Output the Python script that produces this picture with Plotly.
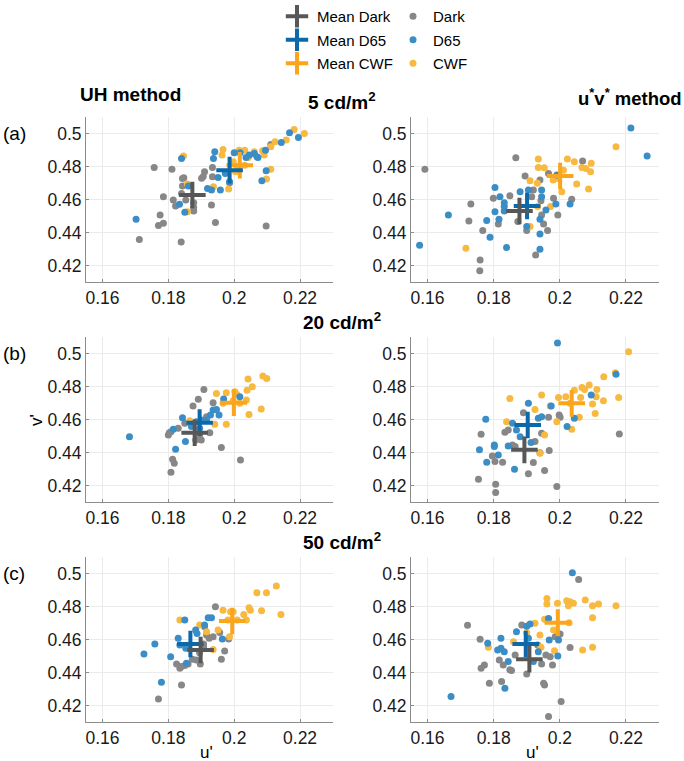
import plotly.graph_objects as go

# ---------------- data (u', v') ----------------
# UH method, 5 cd/m2
uh5_dark_u = [0.1757,0.1811,0.1843,0.1847,0.1843,0.1785,0.1815,0.1822,0.1840,0.1877,0.1877,0.1877,0.1853,0.1901,0.1906,0.1910,0.1934,0.1934,0.1931,0.1943,0.1775,0.1770,0.1785,0.1712,0.1839,0.2097,0.1986,0.2111]
uh5_dark_v = [0.4794,0.4784,0.4728,0.4732,0.4682,0.4617,0.4597,0.4561,0.4637,0.4581,0.4551,0.4530,0.4597,0.4729,0.4740,0.4768,0.4794,0.4738,0.4567,0.4460,0.4506,0.4442,0.4456,0.4357,0.4343,0.4440,0.4702,0.4934]
uh5_d65_u = [0.1702,0.1840,0.1861,0.1834,0.1850,0.1919,0.1931,0.1941,0.1937,0.1951,0.1958,0.1973,0.2000,0.2018,0.2036,0.2046,0.2061,0.2069,0.2072,0.2095,0.2097,0.2084,0.2143,0.2168,0.2195,0.1986]
uh5_d65_v = [0.4480,0.4849,0.4682,0.4571,0.4522,0.4667,0.4657,0.4889,0.4849,0.4734,0.4657,0.4758,0.4883,0.4883,0.4855,0.4869,0.4879,0.4859,0.4855,0.4899,0.4774,0.4714,0.4946,0.5004,0.4976,0.4708]
uh5_cwf_u = [0.1846,0.1858,0.1858,0.1937,0.1966,0.1963,0.1983,0.1997,0.2008,0.2004,0.2015,0.2032,0.2043,0.2061,0.2086,0.2091,0.2111,0.2124,0.2158,0.2182,0.2213,0.2111,0.2098,0.2032]
uh5_cwf_v = [0.4863,0.4694,0.4526,0.4677,0.4903,0.4869,0.4663,0.4829,0.4798,0.4768,0.4899,0.4899,0.4855,0.4889,0.4895,0.4869,0.4919,0.4950,0.4960,0.5024,0.5000,0.4784,0.4724,0.4808]
uh5_mean_u = [0.1873, 0.1986, 0.2017]   # Dark, D65, CWF
uh5_mean_v = [0.4627, 0.4778, 0.4808]

# u*v* method, 5 cd/m2
uv5_dark_u = [0.1592,0.1731,0.1725,0.1759,0.1758,0.1767,0.1799,0.1814,0.1849,0.1867,0.1873,0.1895,0.1900,0.1915,0.1920,0.1940,0.1943,0.1945,0.1951,0.1966,0.1963,0.1927,0.1981,0.1994,0.2036,0.2069]
uv5_dark_v = [0.4784,0.4573,0.4470,0.4234,0.4168,0.4412,0.4607,0.4452,0.4623,0.4853,0.4466,0.4742,0.4412,0.4617,0.4657,0.4718,0.4593,0.4506,0.4452,0.4758,0.4412,0.4264,0.4607,0.4506,0.4601,0.4833]
uv5_d65_u = [0.1576,0.1663,0.1804,0.1819,0.1832,0.1832,0.1832,0.1804,0.1816,0.1779,0.1789,0.1839,0.1880,0.1905,0.1900,0.1945,0.1945,0.1940,0.1940,0.1940,0.1958,0.1988,0.2031,0.1991,0.2215,0.2264]
uv5_d65_v = [0.4323,0.4506,0.4672,0.4617,0.4581,0.4557,0.4530,0.4526,0.4480,0.4472,0.4371,0.4309,0.4647,0.4657,0.4436,0.4657,0.4617,0.4480,0.4391,0.4299,0.4536,0.4573,0.4573,0.4748,0.5034,0.4863]
uv5_cwf_u = [0.1716,0.1910,0.1933,0.1972,0.1910,0.1932,0.1935,0.1935,0.1953,0.1980,0.2006,0.2023,0.2044,0.2051,0.2067,0.2079,0.2095,0.2093,0.2087,0.2170,0.2011,0.1996]
uv5_cwf_v = [0.4305,0.4436,0.4557,0.4557,0.4714,0.4698,0.4845,0.4794,0.4792,0.4718,0.4647,0.4845,0.4829,0.4694,0.4794,0.4788,0.4819,0.4768,0.4663,0.4919,0.4778,0.4728]
uv5_mean_u = [0.1878, 0.1901, 0.2001]
uv5_mean_v = [0.4530, 0.4561, 0.4742]

# UH method, 20 cd/m2
uh20_dark_u = [0.1800,0.1803,0.1808,0.1813,0.1818,0.1808,0.1830,0.1850,0.1875,0.1891,0.1908,0.1936,0.1883,0.1900,0.1926,0.1916,0.1961,0.2019,0.1895]
uh20_dark_v = [0.4506,0.4520,0.4526,0.4359,0.4335,0.4281,0.4547,0.4577,0.4682,0.4722,0.4782,0.4702,0.4476,0.4476,0.4520,0.4617,0.4430,0.4355,0.4506]
uh20_d65_u = [0.1682,0.1815,0.1822,0.1843,0.1852,0.1870,0.1885,0.1900,0.1916,0.1928,0.1936,0.1946,0.1954,0.1968,0.2017,0.1895]
uh20_d65_v = [0.4496,0.4541,0.4420,0.4611,0.4466,0.4557,0.4587,0.4597,0.4597,0.4627,0.4657,0.4661,0.4627,0.4724,0.4738,0.4547]
uh20_cwf_u = [0.1865,0.1941,0.1946,0.1976,0.1966,0.1976,0.1997,0.2002,0.2007,0.2017,0.2037,0.2039,0.2042,0.2045,0.2055,0.2082,0.2087,0.2099]
uh20_cwf_v = [0.4593,0.4571,0.4758,0.4571,0.4698,0.4762,0.4714,0.4768,0.4754,0.4698,0.4718,0.4778,0.4845,0.4631,0.4798,0.4663,0.4863,0.4849]
uh20_mean_u = [0.1880, 0.1895, 0.1999]
uh20_mean_v = [0.4520, 0.4581, 0.4702]

# u*v* method, 20 cd/m2
uv20_dark_u = [0.1754,0.1762,0.1796,0.1804,0.1806,0.1806,0.1827,0.1834,0.1844,0.1857,0.1865,0.1890,0.1905,0.1920,0.1925,0.1940,0.1945,0.1954,0.1966,0.1968,0.1991,0.1998,0.2001,0.2180]
uv20_dark_v = [0.4238,0.4510,0.4379,0.4345,0.4208,0.4158,0.4341,0.4522,0.4536,0.4446,0.4436,0.4641,0.4271,0.4339,0.4466,0.4399,0.4516,0.4291,0.4613,0.4412,0.4194,0.4627,0.4613,0.4512]
uv20_d65_u = [0.1757,0.1776,0.1779,0.1802,0.1802,0.1814,0.1844,0.1857,0.1863,0.1869,0.1880,0.1905,0.1913,0.1935,0.1945,0.1974,0.1993,0.2022,0.2044,0.2095,0.2170]
uv20_d65_v = [0.4416,0.4601,0.4341,0.4446,0.4436,0.4385,0.4440,0.4577,0.4299,0.4536,0.4496,0.4698,0.4460,0.4607,0.4617,0.4682,0.5064,0.4557,0.4607,0.4748,0.4875]
uv20_cwf_u = [0.1849,0.1839,0.1925,0.1945,0.1954,0.1940,0.1971,0.1991,0.1996,0.2018,0.2036,0.2044,0.2059,0.2063,0.2067,0.2075,0.2089,0.2099,0.2107,0.2110,0.2112,0.2133,0.2132,0.2168,0.2178,0.2208,0.2031]
uv20_cwf_v = [0.4728,0.4587,0.4661,0.4748,0.4506,0.4395,0.4682,0.4587,0.4734,0.4738,0.4541,0.4778,0.4613,0.4734,0.4794,0.4782,0.4809,0.4694,0.4637,0.4738,0.4782,0.4859,0.4714,0.4883,0.4734,0.5010,0.4698]
uv20_mean_u = [0.1893, 0.1903, 0.2036]
uv20_mean_v = [0.4416, 0.4567, 0.4698]

# UH method, 50 cd/m2
uh50_dark_u = [0.1770,0.1840,0.1825,0.1835,0.1840,0.1850,0.1860,0.1873,0.1885,0.1897,0.1895,0.1907,0.1907,0.1910,0.1916,0.1924,0.1936,0.1956,0.1943,0.1961,0.1971,0.1983]
uh50_dark_v = [0.4240,0.4325,0.4452,0.4426,0.4436,0.4442,0.4452,0.4480,0.4476,0.4452,0.4520,0.4573,0.4553,0.4678,0.4627,0.4607,0.4617,0.4643,0.4798,0.4480,0.4530,0.4603]
uh50_d65_u = [0.1726,0.1759,0.1779,0.1807,0.1830,0.1835,0.1850,0.1853,0.1855,0.1883,0.1887,0.1910,0.1921,0.1931,0.1964]
uh50_d65_v = [0.4512,0.4573,0.4341,0.4496,0.4607,0.4567,0.4718,0.4547,0.4456,0.4657,0.4637,0.4688,0.4732,0.4732,0.4603]
uh50_cwf_u = [0.1835,0.1895,0.1916,0.1936,0.1966,0.1986,0.1981,0.1989,0.1997,0.2009,0.2029,0.2037,0.2045,0.2049,0.2069,0.2083,0.2098,0.2128,0.2142,0.1951]
uh50_cwf_v = [0.4718,0.4688,0.4647,0.4540,0.4778,0.4617,0.4718,0.4768,0.4768,0.4718,0.4752,0.4718,0.4792,0.4778,0.4883,0.4774,0.4883,0.4925,0.4752,0.4657]
uh50_mean_u = [0.1898, 0.1867, 0.1994]
uh50_mean_v = [0.4536, 0.4573, 0.4712]

# u*v* method, 50 cd/m2
uv50_dark_u = [0.1721,0.1759,0.1762,0.1772,0.1787,0.1817,0.1829,0.1824,0.1849,0.1854,0.1865,0.1885,0.1900,0.1933,0.1945,0.1951,0.1954,0.1958,0.1971,0.1978,0.1966,0.1986,0.2001,0.2004,0.2031,0.2057]
uv50_dark_v = [0.4686,0.4601,0.4426,0.4446,0.4335,0.4476,0.4446,0.4345,0.4416,0.4412,0.4506,0.4688,0.4391,0.4567,0.4452,0.4335,0.4325,0.4506,0.4496,0.4446,0.4133,0.4617,0.4633,0.4224,0.4551,0.4964]
uv50_d65_u = [0.1671,0.1782,0.1822,0.1812,0.1822,0.1832,0.1844,0.1834,0.1869,0.1900,0.1910,0.1920,0.1935,0.1966,0.1968,0.1996,0.1994,0.2038,0.1905]
uv50_d65_v = [0.4254,0.4577,0.4607,0.4536,0.4547,0.4526,0.4466,0.4305,0.4647,0.4680,0.4694,0.4466,0.4526,0.4728,0.4597,0.4597,0.4500,0.5004,0.4607]
uv50_cwf_u = [0.1784,0.1860,0.1900,0.1925,0.1940,0.1943,0.1954,0.1961,0.1961,0.1981,0.1984,0.1993,0.2021,0.2026,0.2031,0.2041,0.2077,0.2099,0.2099,0.2117,0.2170,0.2069,0.2099,0.2028]
uv50_cwf_v = [0.4553,0.4587,0.4641,0.4698,0.4627,0.4553,0.4722,0.4849,0.4815,0.4657,0.4532,0.4819,0.4835,0.4804,0.4829,0.4819,0.4839,0.4804,0.4732,0.4815,0.4804,0.4536,0.4553,0.4702]
uv50_mean_u = [0.1908, 0.1897, 0.1994]
uv50_mean_v = [0.4480, 0.4573, 0.4702]

x_ticks = [0.16, 0.18, 0.2, 0.22]
x_tick_labels = ["0.16", "0.18", "0.2", "0.22"]
y_ticks = [0.42, 0.44, 0.46, 0.48, 0.5]
y_tick_labels = ["0.42", "0.44", "0.46", "0.48", "0.5"]
row_titles = ["5 cd/m<sup>2</sup>", "20 cd/m<sup>2</sup>", "50 cd/m<sup>2</sup>"]
row_letters = ["(a)", "(b)", "(c)"]
series_names = ["Dark", "D65", "CWF"]

# ---------------- styling ----------------
FONT = "Liberation Sans, Arial, sans-serif"
dot_colors = {"Dark": "#878787", "D65": "#3b8dc5", "CWF": "#f7b940"}
mean_colors = {"Dark": "#575757", "D65": "#0d68aa", "CWF": "#fba51c"}

W, H = 684, 761
col_px = [(86, 333), (411, 659)]
row_px = [(117, 282), (337, 502), (557, 722)]

panels = [
    [(uh5_dark_u, uh5_dark_v, uh5_d65_u, uh5_d65_v, uh5_cwf_u, uh5_cwf_v, uh5_mean_u, uh5_mean_v),
     (uv5_dark_u, uv5_dark_v, uv5_d65_u, uv5_d65_v, uv5_cwf_u, uv5_cwf_v, uv5_mean_u, uv5_mean_v)],
    [(uh20_dark_u, uh20_dark_v, uh20_d65_u, uh20_d65_v, uh20_cwf_u, uh20_cwf_v, uh20_mean_u, uh20_mean_v),
     (uv20_dark_u, uv20_dark_v, uv20_d65_u, uv20_d65_v, uv20_cwf_u, uv20_cwf_v, uv20_mean_u, uv20_mean_v)],
    [(uh50_dark_u, uh50_dark_v, uh50_d65_u, uh50_d65_v, uh50_cwf_u, uh50_cwf_v, uh50_mean_u, uh50_mean_v),
     (uv50_dark_u, uv50_dark_v, uv50_d65_u, uv50_d65_v, uv50_cwf_u, uv50_cwf_v, uv50_mean_u, uv50_mean_v)],
]

fig = go.Figure()
layout = {}
k = 0
for r in range(3):
    for c in range(2):
        k += 1
        xa = "x" if k == 1 else f"x{k}"
        ya = "y" if k == 1 else f"y{k}"
        du, dv, bu, bv, cu, cv, mu, mv = panels[r][c]
        first = (k == 1)
        for name, uu, vv in [("Dark", du, dv), ("CWF", cu, cv), ("D65", bu, bv)]:
            fig.add_trace(go.Scatter(
                x=uu, y=vv, mode="markers", name=name, xaxis=xa, yaxis=ya,
                marker=dict(size=7, color=dot_colors[name], line=dict(width=0)),
                showlegend=first, legend="legend2", legendgroup="d" + name,
                legendrank={"Dark": 1, "D65": 2, "CWF": 3}[name]))
        for idx in [2, 1, 0]:
            name = series_names[idx]
            fig.add_trace(go.Scatter(
                x=[mu[idx]], y=[mv[idx]], mode="markers", name="Mean " + name,
                xaxis=xa, yaxis=ya,
                marker=dict(symbol="cross-thin", size=19,
                            line=dict(width=4, color=mean_colors[name]),
                            color=mean_colors[name]),
                showlegend=first, legend="legend", legendgroup="m" + name,
                legendrank=idx + 1))
        x0, x1 = col_px[c]
        y0, y1 = row_px[r]
        axis_common = dict(showgrid=True, gridcolor="#ebebeb", gridwidth=1,
                           showline=True, linecolor="#8c8c8c", linewidth=1,
                           ticks="inside", ticklen=3, tickcolor="#8c8c8c",
                           zeroline=False,
                           tickfont=dict(family=FONT, size=17.5, color="#1a1a1a"))
        layout["xaxis" if k == 1 else f"xaxis{k}"] = dict(
            domain=[x0 / W, x1 / W], range=[0.155, 0.23],
            tickvals=x_ticks, ticktext=x_tick_labels,
            anchor=ya, **axis_common)
        layout["yaxis" if k == 1 else f"yaxis{k}"] = dict(
            domain=[1 - y1 / H, 1 - y0 / H], range=[0.41, 0.51],
            tickvals=y_ticks, ticktext=y_tick_labels,
            anchor=xa, **axis_common)

fig.update_layout(**layout)

ann = []
for r in range(3):
    ann.append(dict(text="<b>" + row_titles[r] + "</b>", x=342 / W, y=1 - (row_px[r][0] - 2) / H,
                    xref="paper", yref="paper", xanchor="center", yanchor="bottom",
                    showarrow=False, font=dict(family=FONT, size=19, color="black")))
    ann.append(dict(text=row_letters[r], x=1 / W, y=1 - (row_px[r][0] + 16) / H,
                    xref="paper", yref="paper", xanchor="left", yanchor="middle",
                    showarrow=False, font=dict(family=FONT, size=19, color="black")))
ann.append(dict(text="<b>UH method</b>", x=130 / W, y=1 - 95 / H, xref="paper", yref="paper",
                xanchor="center", yanchor="middle", showarrow=False,
                font=dict(family=FONT, size=19, color="black")))
ann.append(dict(text="<b>u<sup>*</sup>v<sup>*</sup> method</b>", x=576 / W, y=1 - 97 / H,
                xref="paper", yref="paper", xanchor="left", yanchor="middle", showarrow=False,
                font=dict(family=FONT, size=18.5, color="black")))
ann.append(dict(text="v'", x=36 / W, y=1 - 420 / H, xref="paper", yref="paper",
                xanchor="center", yanchor="middle", textangle=-90, showarrow=False,
                font=dict(family=FONT, size=17, color="black")))
for c in range(2):
    ann.append(dict(text="u'", x=(col_px[c][0] + col_px[c][1] - 6) / 2 / W, y=0,
                    xref="paper", yref="paper", xanchor="center", yanchor="bottom",
                    yshift=-3, showarrow=False, font=dict(family=FONT, size=17, color="black")))

fig.update_layout(
    width=W, height=H, margin=dict(l=0, r=0, t=0, b=0),
    paper_bgcolor="white", plot_bgcolor="white",
    annotations=ann,
    legend=dict(x=277 / W, y=1, xanchor="left", yanchor="top",
                bgcolor="rgba(0,0,0,0)", font=dict(family=FONT, size=15, color="black"),
                tracegroupgap=1, itemwidth=30),
    legend2=dict(x=393 / W, y=1, xanchor="left", yanchor="top",
                 bgcolor="rgba(0,0,0,0)", font=dict(family=FONT, size=15, color="black"),
                 tracegroupgap=1, itemwidth=30),
)

fig.write_html("out.html", config={"displayModeBar": False},
               post_script="document.body.style.margin='0';")
